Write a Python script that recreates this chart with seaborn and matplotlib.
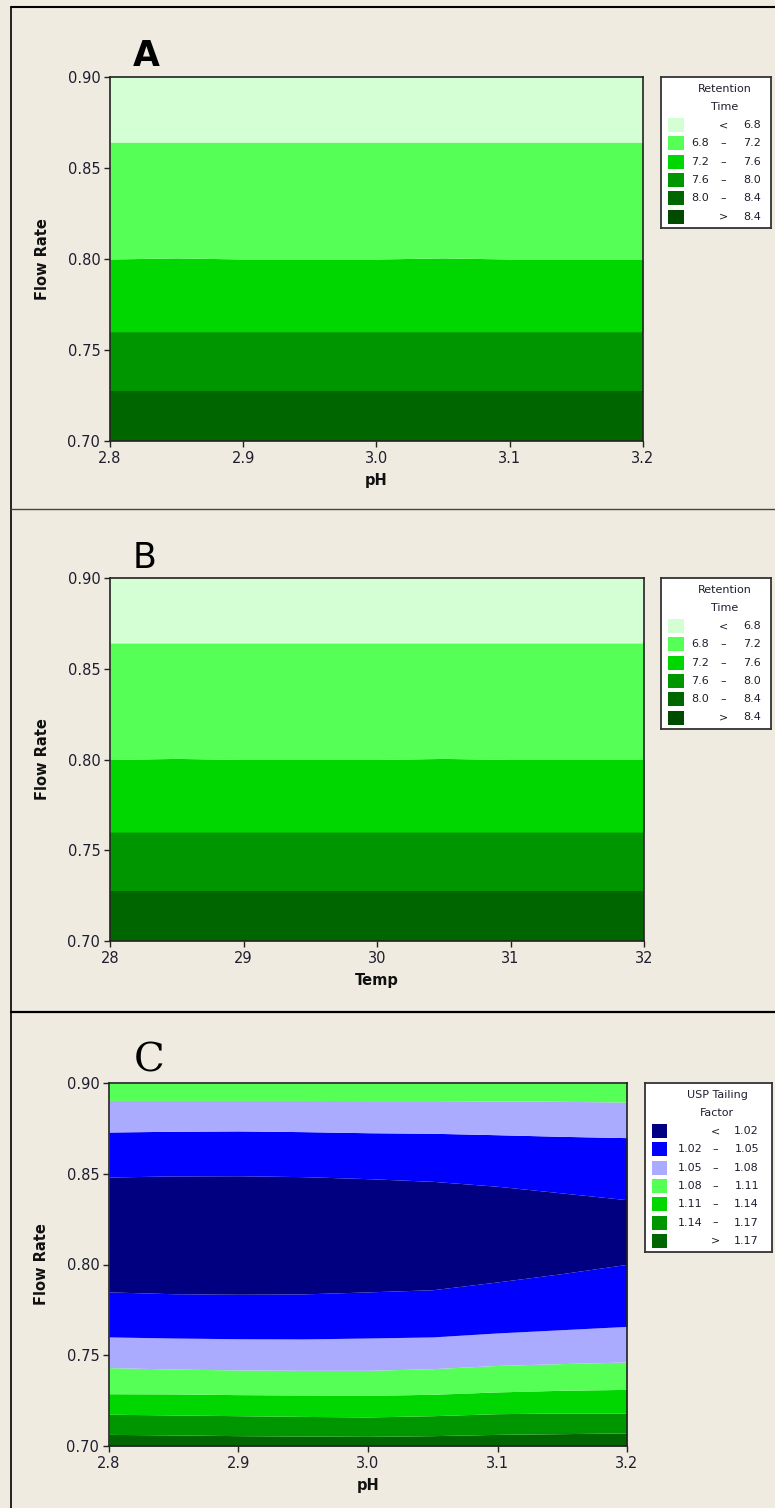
import matplotlib
matplotlib.use("Agg")
import matplotlib.pyplot as plt
import seaborn as sns
from matplotlib.lines import Line2D
from matplotlib.patches import Rectangle

W, H = 775, 1508

ph_pts = [2.8, 2.85, 2.9, 2.95, 3.0, 3.05, 3.1, 3.15, 3.2]
temp_pts = [28.0, 28.5, 29.0, 29.5, 30.0, 30.5, 31.0, 31.5, 32.0]

# Retention time: flow rate of each contour edge (A and B look the same)
rt_levels = [6.8, 7.2, 7.6, 8.0, 8.4]
rt_edge_80 = [0.7275, 0.7275, 0.7275, 0.7275, 0.7275, 0.7275, 0.7275, 0.7275, 0.7275]
rt_edge_76 = [0.7600, 0.7600, 0.7600, 0.7600, 0.7600, 0.7600, 0.7600, 0.7600, 0.7600]
rt_edge_72 = [0.8000, 0.8006, 0.8000, 0.8000, 0.8000, 0.8006, 0.8000, 0.8000, 0.8000]
rt_edge_68 = [0.8642, 0.8642, 0.8642, 0.8642, 0.8642, 0.8642, 0.8642, 0.8642, 0.8642]
rt_colors = ['#D4FFD4', '#55FF55', '#00D700', '#009600', '#006600', '#004B00']

# USP tailing factor: flow rate of each contour edge, bottom to top
tf_levels = [1.02, 1.05, 1.08, 1.11, 1.14, 1.17]
tf_edge_117 = [0.7064, 0.7061, 0.7057, 0.7055, 0.7053, 0.7057, 0.7064, 0.7068, 0.7072]
tf_edge_114 = [0.7175, 0.7171, 0.7167, 0.7163, 0.7160, 0.7167, 0.7178, 0.7182, 0.7182]
tf_edge_111 = [0.7288, 0.7287, 0.7283, 0.7281, 0.7279, 0.7285, 0.7298, 0.7307, 0.7312]
tf_edge_108_lo = [0.7432, 0.7424, 0.7419, 0.7417, 0.7417, 0.7426, 0.7444, 0.7454, 0.7463]
tf_edge_105_lo = [0.7601, 0.7595, 0.7591, 0.7590, 0.7595, 0.7601, 0.7623, 0.7641, 0.7659]
tf_edge_102_lo = [0.7849, 0.7839, 0.7836, 0.7838, 0.7849, 0.7861, 0.7904, 0.7950, 0.8001]
tf_edge_102_hi = [0.8482, 0.8488, 0.8489, 0.8484, 0.8473, 0.8458, 0.8431, 0.8394, 0.8357]
tf_edge_105_hi = [0.8730, 0.8734, 0.8736, 0.8732, 0.8726, 0.8723, 0.8715, 0.8706, 0.8699]
tf_edge_108_hi = [0.8904, 0.8904, 0.8904, 0.8904, 0.8903, 0.8903, 0.8901, 0.8899, 0.8895]
tf_colors = ['#000080', '#0000FF', '#AAAAFF', '#55FF55', '#00D700', '#009600', '#006600']

flow_ticks = [0.70, 0.75, 0.80, 0.85, 0.90]
ph_ticks = [2.8, 2.9, 3.0, 3.1, 3.2]
temp_ticks = [28, 29, 30, 31, 32]

BG = '#EFEBE1'
INK = '#1E1E2E'

sns.set_style("ticks")
plt.rcParams['font.family'] = ['DejaVu Sans']
plt.rcParams['axes.edgecolor'] = '#222222'


def rect(l, t, r, b):
    # pixel box -> figure fraction
    return [l / W, 1 - b / H, (r - l) / W, (b - t) / H]


def band_plot(ax, x, edges, colors, xticks, xfmt, xlabel):
    lo_all = [flow_ticks[0]] * len(x)
    hi_all = [flow_ticks[-1]] * len(x)
    bounds = [lo_all] + edges + [hi_all]
    for i, c in enumerate(colors):
        ax.fill_between(x, bounds[i], bounds[i + 1], color=c, lw=0)
    ax.set_xlim(x[0], x[-1])
    ax.set_ylim(flow_ticks[0], flow_ticks[-1])
    ax.set_xticks(xticks)
    ax.set_xticklabels([xfmt.format(v) for v in xticks])
    ax.set_yticks(flow_ticks)
    ax.set_yticklabels(['{:.2f}'.format(v) for v in flow_ticks])
    ax.tick_params(direction='out', length=4, width=1, color='#222222',
                   labelsize=10.5, labelcolor=INK, pad=3)
    for s in ax.spines.values():
        s.set_linewidth(1.2)
        s.set_visible(True)
    ax.set_xlabel(xlabel, fontsize=10.5, fontweight='bold', color='#111111')
    ax.set_ylabel('Flow Rate', fontsize=10.5, fontweight='bold', color='#111111')
    w_px = ax.get_position().width * W
    h_px = ax.get_position().height * H
    ax.yaxis.set_label_coords(-60.0 / w_px, 0.5)
    ax.xaxis.set_label_coords(0.5, -32.0 / h_px)


def key_box(box, title, levels, colors, xs, fmt):
    l, t, r, b = box
    kw, kh = r - l, b - t
    k = fig.add_axes(rect(l, t, r, b))
    k.set_xlim(0, kw)
    k.set_ylim(kh, 0)
    k.set_xticks([])
    k.set_yticks([])
    k.set_facecolor('white')
    for s in k.spines.values():
        s.set_visible(True)
        s.set_color('#333333')
        s.set_linewidth(1.3)
    tx, sw0, sw1, lo_x, mid_x, hi_x = xs
    for j, line in enumerate(title):
        k.text(tx, 12 + 18.3 * j, line, ha='center', va='center', fontsize=8, color=INK)
    n = len(colors)
    for i in range(n):
        y = 48 + 18.3 * i
        k.add_patch(Rectangle((sw0, y - 7), sw1 - sw0, 14, facecolor=colors[i],
                              edgecolor='none'))
        if i == 0:
            lo, mid, hi = '', '<', fmt.format(levels[0])
        elif i == n - 1:
            lo, mid, hi = '', '>', fmt.format(levels[-1])
        else:
            lo, mid, hi = fmt.format(levels[i - 1]), '\u2013', fmt.format(levels[i])
        k.text(lo_x, y, lo, ha='left', va='center', fontsize=8, color=INK)
        k.text(mid_x, y, mid, ha='center', va='center', fontsize=8, color=INK)
        k.text(hi_x, y, hi, ha='right', va='center', fontsize=8, color=INK)


fig = plt.figure(figsize=(W / 100, H / 100), dpi=100, facecolor=BG)

# panel A
axA = fig.add_axes(rect(110, 77, 643, 441))
band_plot(axA, ph_pts, [rt_edge_80, rt_edge_76, rt_edge_72, rt_edge_68],
          rt_colors[4::-1], ph_ticks, '{:.1f}', 'pH')
key_box((661, 77, 771, 228), ['Retention', 'Time'], rt_levels, rt_colors,
        (64, 6.7, 23, 30.5, 62, 100), '{:.1f}')

# panel B
axB = fig.add_axes(rect(110, 578, 644, 941))
band_plot(axB, temp_pts, [rt_edge_80, rt_edge_76, rt_edge_72, rt_edge_68],
          rt_colors[4::-1], temp_ticks, '{:d}', 'Temp')
key_box((661, 578, 771, 729), ['Retention', 'Time'], rt_levels, rt_colors,
        (64, 6.7, 23, 30.5, 62, 100), '{:.1f}')

# panel C
axC = fig.add_axes(rect(109, 1083, 627, 1446))
c_edges = [tf_edge_117, tf_edge_114, tf_edge_111, tf_edge_108_lo, tf_edge_105_lo,
           tf_edge_102_lo, tf_edge_102_hi, tf_edge_105_hi, tf_edge_108_hi]
c_fill = [tf_colors[6], tf_colors[5], tf_colors[4], tf_colors[3], tf_colors[2],
          tf_colors[1], tf_colors[0], tf_colors[1], tf_colors[2], tf_colors[3]]
band_plot(axC, ph_pts, c_edges, c_fill, ph_ticks, '{:.1f}', 'pH')
key_box((645, 1083, 772, 1252), ['USP Tailing', 'Factor'], tf_levels, tf_colors,
        (72, 6.7, 22.3, 33, 70, 114), '{:.2f}')

# panel letters
fig.text(146 / W, 1 - 66 / H, 'A', ha='center', va='baseline', fontsize=25,
         fontweight='bold', color='black')
fig.text(145 / W, 1 - 568 / H, 'B', ha='center', va='baseline', fontsize=25,
         color='black')
fig.text(149.5 / W, 1 - 1072 / H, 'C', ha='center', va='baseline', fontsize=29,
         family='DejaVu Serif', color='black')

# frame lines around / between panels
fig.add_artist(Line2D([11 / W, 11 / W], [0, 1 - 7 / H], color='black', lw=1.2,
                      transform=fig.transFigure))
fig.add_artist(Line2D([11 / W, 1], [1 - 7 / H, 1 - 7 / H], color='black', lw=1.5,
                      transform=fig.transFigure))
fig.add_artist(Line2D([11 / W, 1], [1 - 509 / H, 1 - 509 / H], color='#444444', lw=1.0,
                      transform=fig.transFigure))
fig.add_artist(Line2D([11 / W, 1], [1 - 1012 / H, 1 - 1012 / H], color='black', lw=1.6,
                      transform=fig.transFigure))

fig.savefig('out.png', dpi=100, facecolor=BG)
